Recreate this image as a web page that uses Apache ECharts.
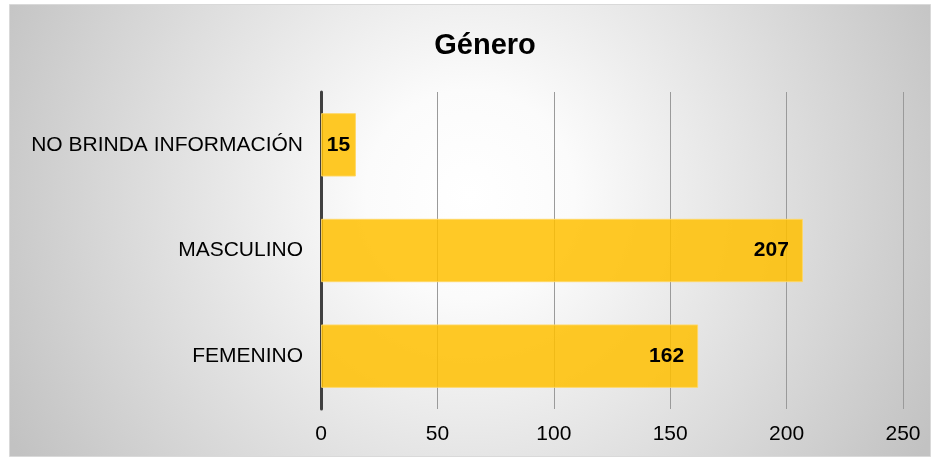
<!DOCTYPE html>
<html><head><meta charset="utf-8">
<script src="https://cdn.jsdelivr.net/npm/echarts@6/dist/echarts.min.js"></script>
<style>html,body{margin:0;padding:0;background:#fff}#c{width:936px;height:460px}</style>
</head><body><div id="c"></div>
<script>
const categories = ['FEMENINO', 'MASCULINO', 'NO BRINDA INFORMACIÓN'];
const values = [162, 207, 15];
const xTicks = [0, 50, 100, 150, 200, 250];
const titleText = 'Género';

const chart = echarts.init(document.getElementById('c'));
const F = '"Liberation Sans", Arial, sans-serif';
chart.setOption({
  animation: false,
  graphic: [{
    type: 'rect', z: -10, silent: true,
    shape: { x: 9.5, y: 4.5, width: 921, height: 452 },
    style: {
      fill: new echarts.graphic.RadialGradient(0.5, 0.42, 1.15, [
        { offset: 0, color: '#ffffff' },
        { offset: 0.2, color: '#fbfbfb' },
        { offset: 1, color: '#c2c2c2' }
      ]),
      stroke: '#d9d9d9', lineWidth: 1
    }
  }],
  title: {
    text: titleText, left: 480, top: 26, textAlign: 'center',
    textStyle: { fontFamily: F, fontWeight: 'bold', fontSize: 29, color: '#000' }
  },
  grid: { left: 321, right: 33, top: 92, bottom: 51, containLabel: false },
  xAxis: {
    type: 'value', min: xTicks[0], max: xTicks[xTicks.length - 1], interval: 50,
    axisLine: { show: false }, axisTick: { show: false },
    axisLabel: { fontFamily: F, fontSize: 21, color: '#000', margin: 15,
      formatter: v => xTicks.includes(v) ? String(v) : '' },
    splitLine: { lineStyle: { color: '#9a9a9a', width: 1 } }
  },
  yAxis: {
    type: 'category', data: categories,
    axisLine: { lineStyle: { color: '#404040', width: 3 } },
    axisTick: { show: false },
    axisLabel: { fontFamily: F, fontSize: 21, color: '#000', margin: 18 }
  },
  series: [{
    type: 'bar', barCategoryGap: '40%',
    data: values.map((v, i) => ({
      value: v,
      label: v < 30 ? { position: 'inside' } : {}
    })),
    itemStyle: { color: 'rgba(255,192,0,0.85)', borderColor: 'rgba(255,215,100,0.9)', borderWidth: 1 },
    label: { show: true, position: 'insideRight', distance: 14,
      fontFamily: F, fontWeight: 'bold', fontSize: 21, color: '#000' }
  }]
});
</script></body></html>
